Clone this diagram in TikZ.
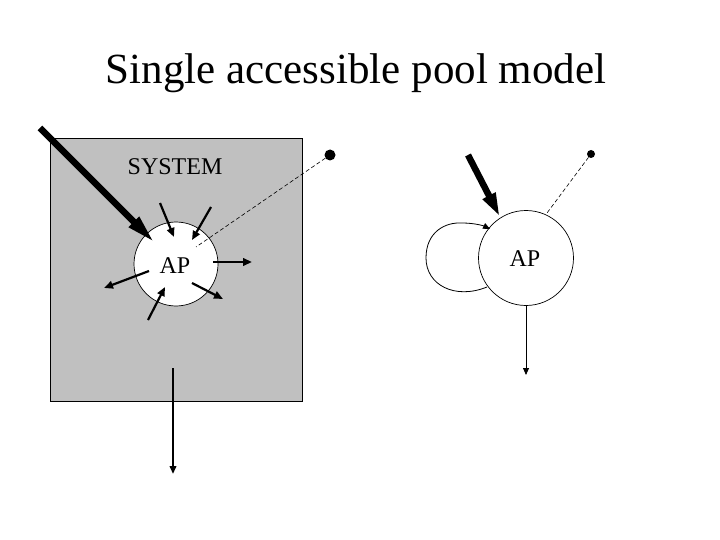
\documentclass[tikz,border=0pt]{standalone}
\usepackage{fontspec}
\setmainfont{Liberation Serif}
\usetikzlibrary{arrows.meta}
\definecolor{boxgray}{RGB}{192,192,192}
\begin{document}
\begin{tikzpicture}[x=1pt,y=-1pt,
  thickarr/.style={line width=6.5pt,-{Triangle[length=30pt,width=13pt]}},
  thickarrb/.style={line width=6.5pt,-{Triangle[length=24pt,width=13pt]}},
  smallarr/.style={line width=2.2pt,-{Triangle[length=9pt,width=7.5pt]}},
  thinarr/.style={line width=0.8pt,-{Triangle[length=7pt,width=6pt]}},
  dashline/.style={line width=0.6pt,dash pattern=on 4pt off 2.5pt},
  pool/.style={circle,draw,line width=0.7pt,inner sep=0pt,font=\fontsize{24}{28}\selectfont},
  dotnode/.style={circle,fill=black,inner sep=0pt}]
\useasboundingbox (0,0) rectangle (720,540);
% title
\node[anchor=base,font=\fontsize{43}{50}\selectfont] (title) at (356,84) {Single accessible pool model};
% system box
\node[draw,line width=0.7pt,fill=boxgray,minimum width=252pt,minimum height=263pt,inner sep=0pt] (sys) at (176.5,269.5) {};
\node[anchor=base,font=\fontsize{24}{28}\selectfont] (systxt) at (175,175) {SYSTEM};
% left pool
\node[pool,fill=white,minimum size=84pt] (ap1) at (176,264) {};
\node[anchor=base,font=\fontsize{24}{28}\selectfont] (ap1t) at (175,273) {AP};
% coordinates, left
\coordinate (t1s) at (40,128);   \coordinate (t1e) at (155,243);
\coordinate (a1s) at (160,203);  \coordinate (a1e) at (174,237);
\coordinate (a2s) at (211,207);  \coordinate (a2e) at (192,240);
\coordinate (a3s) at (213,262);  \coordinate (a3e) at (252,262);
\coordinate (a4s) at (192,283);  \coordinate (a4e) at (223,299);
\coordinate (a5s) at (148,320);  \coordinate (a5e) at (165,287);
\coordinate (a6s) at (149,271);  \coordinate (a6e) at (104,288);
\coordinate (bs) at (173,368);   \coordinate (be) at (173,474);
\coordinate (d1e) at (196,247);
\node[dotnode,minimum size=11pt] (dot1) at (330,155) {};
\draw[dashline] (dot1) -- (d1e);
\draw[thickarr] (t1s) -- (t1e);
\draw[smallarr] (a1s) -- (a1e);
\draw[smallarr] (a2s) -- (a2e);
\draw[smallarr] (a3s) -- (a3e);
\draw[smallarr] (a4s) -- (a4e);
\draw[smallarr] (a5s) -- (a5e);
\draw[smallarr] (a6s) -- (a6e);
\draw[line width=2pt,-{Triangle[length=8pt,width=6.5pt]}] (bs) -- (be);
% right pool
\node[pool,minimum size=95pt] (ap2) at (526,258) {};
\node[anchor=base,font=\fontsize{24}{28}\selectfont] (ap2t) at (525,266) {AP};
\coordinate (t2s) at (468,155); \coordinate (t2e) at (500,217);
\coordinate (ls) at (487,287);  \coordinate (le) at (490,229);
\coordinate (d2e) at (547,213);
\coordinate (b2e) at (526,375);
\node[dotnode,minimum size=8pt] (dot2) at (591,154) {};
\draw[dashline] (dot2) -- (d2e);
\draw[thickarrb] (t2s) -- (t2e);
\draw[thinarr] (ls) .. controls (455,300) and (426,285) .. (426,258)
  .. controls (426,232) and (445,222) .. (462,223)
  .. controls (475,223) and (484,226) .. (le);
\draw[thinarr] (ap2.south) -- (b2e);
\end{tikzpicture}
\end{document}
